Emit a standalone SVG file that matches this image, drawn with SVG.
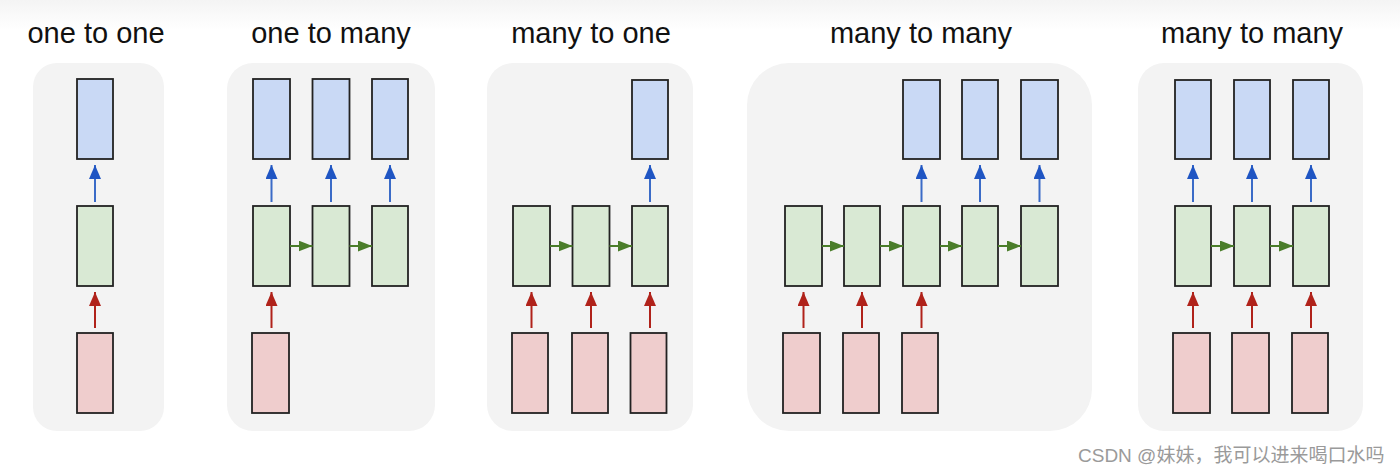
<svg xmlns="http://www.w3.org/2000/svg" width="1400" height="472" viewBox="0 0 1400 472">
<defs>
<linearGradient id="topfade" x1="0" y1="0" x2="0" y2="1">
<stop offset="0" stop-color="#f4f4f4"/>
<stop offset="1" stop-color="#ffffff"/>
</linearGradient>
<marker id="hb" markerUnits="userSpaceOnUse" markerWidth="16" markerHeight="14" refX="14" refY="6" orient="auto"><path d="M0,0 L14,6 L0,12 z" fill="#1f55c3"/></marker>
<marker id="hr" markerUnits="userSpaceOnUse" markerWidth="16" markerHeight="14" refX="14" refY="6" orient="auto"><path d="M0,0 L14,6 L0,12 z" fill="#b0221a"/></marker>
<marker id="hg" markerUnits="userSpaceOnUse" markerWidth="16" markerHeight="14" refX="14" refY="5.5" orient="auto"><path d="M0,0 L14,5.5 L0,11 z" fill="#4a7d2a"/></marker>
</defs>
<style>
.panel{fill:#f3f3f3}
.title{font-family:"Liberation Sans",Arial,sans-serif;font-size:29px;fill:#111;text-anchor:middle}
.b{fill:#c9d9f5;stroke:#222;stroke-width:1.8}
.g{fill:#d9e9d4;stroke:#222;stroke-width:1.8}
.r{fill:#efcdcd;stroke:#222;stroke-width:1.8}
.ab{stroke:#3a6bc7;stroke-width:2;fill:none;marker-end:url(#hb)}
.ar{stroke:#b0221a;stroke-width:2;fill:none;marker-end:url(#hr)}
.ag{stroke:#4a7d2a;stroke-width:2;fill:none;marker-end:url(#hg)}
.wm{font-family:"Liberation Sans","Noto Sans CJK SC",sans-serif;font-size:19px;fill:#9a9a9a}
</style>
<rect x="0" y="0" width="1400" height="472" fill="#ffffff"/>
<rect x="0" y="0" width="1400" height="30" fill="url(#topfade)"/>

<g id="panels">
<rect class="panel" x="33" y="63" width="131" height="368" rx="24"/>
<rect class="panel" x="227" y="63" width="208" height="368" rx="26"/>
<rect class="panel" x="487" y="63" width="206" height="368" rx="26"/>
<rect class="panel" x="747" y="63" width="345" height="368" rx="42"/>
<rect class="panel" x="1138" y="63" width="225" height="368" rx="26"/>
</g>

<g id="titles">
<text class="title" x="96" y="43">one to one</text>
<text class="title" x="331" y="43">one to many</text>
<text class="title" x="591" y="43">many to one</text>
<text class="title" x="921" y="43">many to many</text>
<text class="title" x="1252" y="43">many to many</text>
</g>

<g id="p1">
<rect id="p1-out" class="b" x="77" y="79" width="36" height="80"/>
<rect id="p1-hid" class="g" x="77" y="206" width="36" height="80"/>
<rect id="p1-in" class="r" x="77" y="333" width="36" height="80"/>
</g>
<g id="p2">
<rect id="p2-out1" class="b" x="253" y="79" width="37" height="80"/>
<rect id="p2-out2" class="b" x="312.5" y="79" width="37" height="80"/>
<rect id="p2-out3" class="b" x="372" y="79" width="36" height="80"/>
<rect id="p2-hid1" class="g" x="253" y="206" width="37" height="80"/>
<rect id="p2-hid2" class="g" x="312.5" y="206" width="37" height="80"/>
<rect id="p2-hid3" class="g" x="372" y="206" width="36" height="80"/>
<rect id="p2-in1" class="r" x="252" y="333" width="37" height="80"/>
</g>
<g id="p3">
<rect id="p3-out" class="b" x="632" y="80" width="36" height="79"/>
<rect id="p3-hid1" class="g" x="513" y="206" width="37" height="80"/>
<rect id="p3-hid2" class="g" x="572.5" y="206" width="37" height="80"/>
<rect id="p3-hid3" class="g" x="632" y="206" width="36" height="80"/>
<rect id="p3-in1" class="r" x="512" y="333" width="36" height="80"/>
<rect id="p3-in2" class="r" x="572" y="333" width="36" height="80"/>
<rect id="p3-in3" class="r" x="630.5" y="333" width="36" height="80"/>
</g>
<g id="p4">
<rect id="p4-out1" class="b" x="903" y="80" width="37" height="79"/>
<rect id="p4-out2" class="b" x="962" y="80" width="36" height="79"/>
<rect id="p4-out3" class="b" x="1021" y="80" width="37" height="79"/>
<rect id="p4-hid1" class="g" x="785" y="206" width="37" height="80"/>
<rect id="p4-hid2" class="g" x="844" y="206" width="36" height="80"/>
<rect id="p4-hid3" class="g" x="903" y="206" width="37" height="80"/>
<rect id="p4-hid4" class="g" x="962" y="206" width="36" height="80"/>
<rect id="p4-hid5" class="g" x="1021" y="206" width="37" height="80"/>
<rect id="p4-in1" class="r" x="783" y="333" width="37" height="80"/>
<rect id="p4-in2" class="r" x="843" y="333" width="36" height="80"/>
<rect id="p4-in3" class="r" x="902" y="333" width="36" height="80"/>
</g>
<g id="p5">
<rect id="p5-out1" class="b" x="1175" y="80" width="36" height="79"/>
<rect id="p5-out2" class="b" x="1234" y="80" width="36" height="79"/>
<rect id="p5-out3" class="b" x="1293" y="80" width="36" height="79"/>
<rect id="p5-hid1" class="g" x="1175" y="206" width="36" height="80"/>
<rect id="p5-hid2" class="g" x="1234" y="206" width="36" height="80"/>
<rect id="p5-hid3" class="g" x="1293" y="206" width="36" height="80"/>
<rect id="p5-in1" class="r" x="1173" y="333" width="37" height="80"/>
<rect id="p5-in2" class="r" x="1232" y="333" width="37" height="80"/>
<rect id="p5-in3" class="r" x="1292" y="333" width="36" height="80"/>
</g>

<g id="connectors">
<!-- panel 1 -->
<line class="ab" x1="95" y1="202" x2="95" y2="165"/>
<line class="ar" x1="95" y1="328" x2="95" y2="292"/>
<!-- panel 2 -->
<line class="ab" x1="271.5" y1="202" x2="271.5" y2="165"/>
<line class="ab" x1="331" y1="202" x2="331" y2="165"/>
<line class="ab" x1="390" y1="202" x2="390" y2="165"/>
<line class="ar" x1="271.5" y1="328" x2="271.5" y2="292"/>
<line class="ag" x1="290" y1="246" x2="312.5" y2="246"/>
<line class="ag" x1="349.5" y1="246" x2="372" y2="246"/>
<!-- panel 3 -->
<line class="ab" x1="650" y1="202" x2="650" y2="165"/>
<line class="ar" x1="531.5" y1="328" x2="531.5" y2="292"/>
<line class="ar" x1="591" y1="328" x2="591" y2="292"/>
<line class="ar" x1="650" y1="328" x2="650" y2="292"/>
<line class="ag" x1="550" y1="246" x2="572.5" y2="246"/>
<line class="ag" x1="609.5" y1="246" x2="632" y2="246"/>
<!-- panel 4 -->
<line class="ab" x1="921.5" y1="202" x2="921.5" y2="165"/>
<line class="ab" x1="980" y1="202" x2="980" y2="165"/>
<line class="ab" x1="1039.5" y1="202" x2="1039.5" y2="165"/>
<line class="ar" x1="803.5" y1="328" x2="803.5" y2="292"/>
<line class="ar" x1="862" y1="328" x2="862" y2="292"/>
<line class="ar" x1="921.5" y1="328" x2="921.5" y2="292"/>
<line class="ag" x1="822" y1="246" x2="844" y2="246"/>
<line class="ag" x1="880" y1="246" x2="903" y2="246"/>
<line class="ag" x1="940" y1="246" x2="962" y2="246"/>
<line class="ag" x1="998" y1="246" x2="1021" y2="246"/>
<!-- panel 5 -->
<line class="ab" x1="1193" y1="202" x2="1193" y2="165"/>
<line class="ab" x1="1252" y1="202" x2="1252" y2="165"/>
<line class="ab" x1="1311" y1="202" x2="1311" y2="165"/>
<line class="ar" x1="1193" y1="328" x2="1193" y2="292"/>
<line class="ar" x1="1252" y1="328" x2="1252" y2="292"/>
<line class="ar" x1="1311" y1="328" x2="1311" y2="292"/>
<line class="ag" x1="1211" y1="246" x2="1234" y2="246"/>
<line class="ag" x1="1270" y1="246" x2="1293" y2="246"/>
</g>

<text class="wm" x="1078" y="462">CSDN @妹妹，我可以进来喝口水吗</text>
</svg>
